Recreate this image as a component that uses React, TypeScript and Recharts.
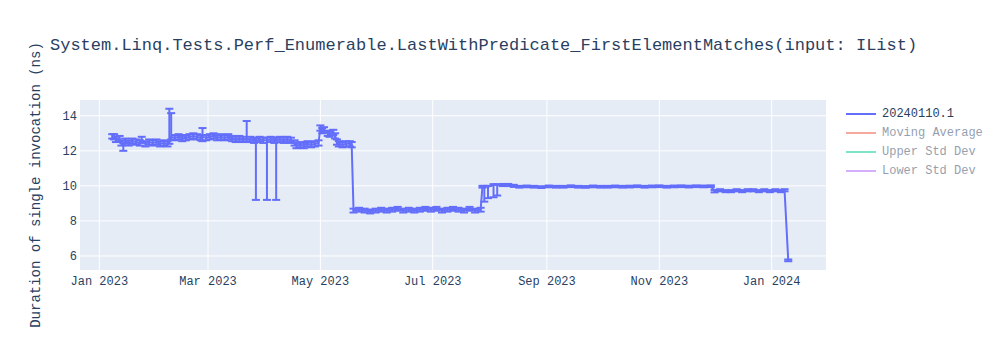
import { CartesianGrid, ErrorBar, Line, LineChart, XAxis, YAxis } from "recharts";

type Row = [string, number, number, number]; // date, ns, error below, error above

const BLUE = "#636efa";
const INK = "#2a3f5f";
const FONT = "'Liberation Mono', 'Courier New', monospace";

// Jan -> mid May 2023, around 12.5 ns
const winterSpring: Row[] = [
  ["2023-01-08", 12.85, 0.15, 0.1],
  ["2023-01-09", 12.8, 0.15, 0.15],
  ["2023-01-10", 12.65, 0.15, 0.15],
  ["2023-01-12", 12.7, 0.15, 0.15],
  ["2023-01-13", 12.45, 0.15, 0.15],
  ["2023-01-14", 12.3, 0.3, 0.15],
  ["2023-01-15", 12.55, 0.15, 0.15],
  ["2023-01-17", 12.45, 0.15, 0.15],
  ["2023-01-19", 12.55, 0.15, 0.15],
  ["2023-01-21", 12.5, 0.15, 0.15],
  ["2023-01-23", 12.45, 0.15, 0.15],
  ["2023-01-24", 12.6, 0.15, 0.2],
  ["2023-01-26", 12.4, 0.15, 0.15],
  ["2023-01-28", 12.5, 0.15, 0.15],
  ["2023-01-30", 12.45, 0.15, 0.15],
  ["2023-02-01", 12.5, 0.15, 0.15],
  ["2023-02-03", 12.4, 0.15, 0.15],
  ["2023-02-05", 12.45, 0.15, 0.15],
  ["2023-02-07", 12.4, 0.15, 0.15],
  ["2023-02-08", 12.55, 0.15, 1.85],
  ["2023-02-09", 12.8, 0.15, 1.35],
  ["2023-02-11", 12.75, 0.15, 0.15],
  ["2023-02-13", 12.8, 0.15, 0.15],
  ["2023-02-15", 12.7, 0.15, 0.15],
  ["2023-02-17", 12.75, 0.15, 0.15],
  ["2023-02-19", 12.8, 0.15, 0.15],
  ["2023-02-21", 12.85, 0.15, 0.15],
  ["2023-02-23", 12.8, 0.15, 0.15],
  ["2023-02-25", 12.75, 0.15, 0.15],
  ["2023-02-26", 12.8, 0.25, 0.5],
  ["2023-02-28", 12.75, 0.15, 0.15],
  ["2023-03-02", 12.8, 0.15, 0.15],
  ["2023-03-04", 12.85, 0.15, 0.15],
  ["2023-03-06", 12.75, 0.15, 0.15],
  ["2023-03-08", 12.8, 0.15, 0.15],
  ["2023-03-10", 12.75, 0.15, 0.15],
  ["2023-03-12", 12.8, 0.15, 0.15],
  ["2023-03-14", 12.7, 0.15, 0.15],
  ["2023-03-16", 12.65, 0.15, 0.15],
  ["2023-03-18", 12.7, 0.15, 0.15],
  ["2023-03-20", 12.65, 0.15, 0.15],
  ["2023-03-22", 12.7, 0.15, 1.0],
  ["2023-03-24", 12.65, 0.15, 0.15],
  ["2023-03-26", 12.6, 0.15, 0.15],
  ["2023-03-27", 12.55, 3.35, 0.15],
  ["2023-03-29", 12.65, 0.15, 0.15],
  ["2023-03-31", 12.6, 0.15, 0.15],
  ["2023-04-02", 12.6, 3.4, 0.15],
  ["2023-04-04", 12.65, 0.15, 0.15],
  ["2023-04-06", 12.6, 0.15, 0.15],
  ["2023-04-07", 12.6, 3.4, 0.15],
  ["2023-04-09", 12.65, 0.15, 0.15],
  ["2023-04-11", 12.6, 0.15, 0.15],
  ["2023-04-13", 12.65, 0.15, 0.15],
  ["2023-04-15", 12.6, 0.15, 0.15],
  ["2023-04-17", 12.45, 0.15, 0.15],
  ["2023-04-18", 12.3, 0.15, 0.15],
  ["2023-04-20", 12.35, 0.15, 0.15],
  ["2023-04-22", 12.3, 0.15, 0.15],
  ["2023-04-24", 12.4, 0.15, 0.15],
  ["2023-04-26", 12.35, 0.15, 0.15],
  ["2023-04-28", 12.4, 0.15, 0.15],
  ["2023-04-30", 12.45, 0.15, 0.15],
  ["2023-05-01", 13.3, 0.15, 0.15],
  ["2023-05-02", 13.15, 0.15, 0.15],
  ["2023-05-03", 13.2, 0.15, 0.15],
  ["2023-05-05", 13.0, 0.15, 0.15],
  ["2023-05-06", 12.95, 0.15, 0.15],
  ["2023-05-08", 13.05, 0.15, 0.15],
  ["2023-05-09", 12.85, 0.15, 0.15],
  ["2023-05-10", 12.5, 0.15, 0.15],
  ["2023-05-11", 12.4, 0.15, 0.15],
  ["2023-05-13", 12.35, 0.15, 0.15],
  ["2023-05-15", 12.4, 0.15, 0.15],
  ["2023-05-17", 12.4, 0.15, 0.15],
  ["2023-05-18", 12.35, 0.15, 0.15],
];

// after the drop, ~8.6 ns
const summer: Row[] = [
  ["2023-05-19", 8.6, 0.12, 0.1],
  ["2023-05-22", 8.65, 0.12, 0.1],
  ["2023-05-25", 8.6, 0.12, 0.1],
  ["2023-05-28", 8.55, 0.12, 0.1],
  ["2023-05-31", 8.6, 0.12, 0.1],
  ["2023-06-03", 8.65, 0.12, 0.1],
  ["2023-06-06", 8.6, 0.12, 0.1],
  ["2023-06-09", 8.65, 0.12, 0.1],
  ["2023-06-12", 8.7, 0.12, 0.1],
  ["2023-06-15", 8.6, 0.12, 0.1],
  ["2023-06-18", 8.65, 0.12, 0.1],
  ["2023-06-21", 8.6, 0.12, 0.1],
  ["2023-06-24", 8.65, 0.12, 0.1],
  ["2023-06-27", 8.7, 0.12, 0.1],
  ["2023-06-30", 8.65, 0.12, 0.1],
  ["2023-07-03", 8.7, 0.12, 0.1],
  ["2023-07-06", 8.6, 0.12, 0.1],
  ["2023-07-09", 8.65, 0.12, 0.1],
  ["2023-07-12", 8.7, 0.12, 0.1],
  ["2023-07-15", 8.65, 0.12, 0.1],
  ["2023-07-18", 8.6, 0.12, 0.1],
  ["2023-07-21", 8.7, 0.12, 0.1],
  ["2023-07-24", 8.6, 0.12, 0.1],
  ["2023-07-27", 8.65, 0.12, 0.1],
];

// ~10 ns plateau
const autumn: Row[] = [
  ["2023-07-28", 9.95, 0.05, 0.05],
  ["2023-07-29", 9.95, 0.85, 0.05],
  ["2023-07-31", 9.95, 0.65, 0.05],
  ["2023-08-03", 10.05, 0.7, 0.05],
  ["2023-08-05", 10.05, 0.6, 0.05],
  ["2023-08-08", 10.05, 0.06, 0.06],
  ["2023-08-11", 10.05, 0.06, 0.06],
  ["2023-08-14", 10.0, 0.06, 0.06],
  ["2023-08-17", 9.95, 0.05, 0.05],
  ["2023-08-21", 9.97, 0.05, 0.05],
  ["2023-08-25", 9.95, 0.05, 0.05],
  ["2023-08-29", 9.93, 0.05, 0.05],
  ["2023-09-02", 9.97, 0.05, 0.05],
  ["2023-09-06", 9.95, 0.05, 0.05],
  ["2023-09-10", 9.95, 0.05, 0.05],
  ["2023-09-14", 9.98, 0.05, 0.05],
  ["2023-09-18", 9.95, 0.05, 0.05],
  ["2023-09-22", 9.94, 0.05, 0.05],
  ["2023-09-26", 9.97, 0.05, 0.05],
  ["2023-09-30", 9.95, 0.05, 0.05],
  ["2023-10-04", 9.95, 0.05, 0.05],
  ["2023-10-08", 9.97, 0.05, 0.05],
  ["2023-10-12", 9.95, 0.05, 0.05],
  ["2023-10-16", 9.96, 0.05, 0.05],
  ["2023-10-20", 9.98, 0.05, 0.05],
  ["2023-10-24", 9.95, 0.05, 0.05],
  ["2023-10-28", 9.97, 0.05, 0.05],
  ["2023-11-01", 9.98, 0.05, 0.05],
  ["2023-11-05", 9.95, 0.05, 0.05],
  ["2023-11-09", 9.97, 0.05, 0.05],
  ["2023-11-13", 9.98, 0.05, 0.05],
  ["2023-11-17", 9.96, 0.05, 0.05],
  ["2023-11-21", 9.98, 0.05, 0.05],
  ["2023-11-25", 9.97, 0.05, 0.05],
  ["2023-11-29", 9.98, 0.05, 0.05],
];

// December step down, then the final outlier
const winter: Row[] = [
  ["2023-12-01", 9.7, 0.07, 0.07],
  ["2023-12-04", 9.75, 0.06, 0.06],
  ["2023-12-07", 9.7, 0.06, 0.06],
  ["2023-12-10", 9.7, 0.06, 0.06],
  ["2023-12-13", 9.75, 0.06, 0.06],
  ["2023-12-16", 9.7, 0.06, 0.06],
  ["2023-12-19", 9.75, 0.06, 0.06],
  ["2023-12-22", 9.75, 0.06, 0.06],
  ["2023-12-25", 9.7, 0.06, 0.06],
  ["2023-12-28", 9.75, 0.06, 0.06],
  ["2023-12-31", 9.7, 0.06, 0.06],
  ["2024-01-03", 9.75, 0.06, 0.06],
  ["2024-01-06", 9.7, 0.06, 0.06],
  ["2024-01-08", 9.75, 0.06, 0.06],
  ["2024-01-10", 5.75, 0.05, 0.05],
];

const xTicks = ["2023-01-01", "2023-03-01", "2023-05-01", "2023-07-01", "2023-09-01", "2023-11-01", "2024-01-01"];
const yTicks = [6, 8, 10, 12, 14];
const MONTHS = ["Jan", "Feb", "Mar", "Apr", "May", "Jun", "Jul", "Aug", "Sep", "Oct", "Nov", "Dec"];

const legendItems = [
  { name: "20240110.1", color: BLUE, hidden: false },
  { name: "Moving Average", color: "#EF553B", hidden: true },
  { name: "Upper Std Dev", color: "#00cc96", hidden: true },
  { name: "Lower Std Dev", color: "#ab63fa", hidden: true },
];

const data = [...winterSpring, ...summer, ...autumn, ...winter].map(([d, v, lo, hi]) => ({
  t: Date.parse(d),
  ns: v,
  err: [lo, hi],
}));

const fmtDate = (t: number) => {
  const d = new Date(t);
  return `${MONTHS[d.getUTCMonth()]} ${d.getUTCFullYear()}`;
};

export default function App() {
  const tickStyle = { fontFamily: FONT, fontSize: 12, fill: INK };
  return (
    <div style={{ position: "absolute", left: 0, top: 0, width: 1000, height: 350, background: "#fff", fontFamily: FONT }}>
      <div style={{ position: "absolute", left: 50, top: 36, fontSize: 17, color: INK, whiteSpace: "nowrap" }}>
        System.Linq.Tests.Perf_Enumerable.LastWithPredicate_FirstElementMatches(input: IList)
      </div>
      <div
        style={{
          position: "absolute", left: 36, top: 185, fontSize: 14, color: INK, whiteSpace: "nowrap",
          transform: "translate(-50%, -50%) rotate(-90deg)",
        }}
      >
        Duration of single invocation (ns)
      </div>

      <LineChart width={1000} height={350} data={data} margin={{ top: 100, right: 174, bottom: 0, left: 0 }}>
        <CartesianGrid fill="#e5ecf6" stroke="#fff" strokeWidth={1} horizontalValues={yTicks} verticalValues={xTicks.map((d) => Date.parse(d))} />
        <XAxis
          dataKey="t" type="number" height={80}
          domain={[Date.UTC(2022, 11, 21, 12), Date.UTC(2024, 0, 30, 12)]} allowDataOverflow
          ticks={xTicks.map((d) => Date.parse(d))} tickFormatter={fmtDate}
          axisLine={false} tickLine={false} tickSize={0} tickMargin={6} tick={tickStyle}
        />
        <YAxis
          type="number" width={80} domain={[5.2, 14.9]} allowDataOverflow ticks={yTicks}
          axisLine={false} tickLine={false} tickSize={0} tickMargin={3} tick={tickStyle}
        />
        <Line dataKey="ns" type="linear" stroke={BLUE} strokeWidth={2} dot={false} isAnimationActive={false}>
          <ErrorBar dataKey="err" direction="y" width={4} stroke={BLUE} strokeWidth={2} isAnimationActive={false} />
        </Line>
      </LineChart>

      {legendItems.map((item, i) => (
        <div key={item.name} style={{ position: "absolute", left: 846, top: 106 + i * 19, height: 16, display: "flex", alignItems: "center", opacity: item.hidden ? 0.5 : 1 }}>
          <div style={{ width: 30, height: 2, background: item.color }} />
          <span style={{ marginLeft: 6, fontSize: 12, color: INK, whiteSpace: "nowrap" }}>{item.name}</span>
        </div>
      ))}
    </div>
  );
}
